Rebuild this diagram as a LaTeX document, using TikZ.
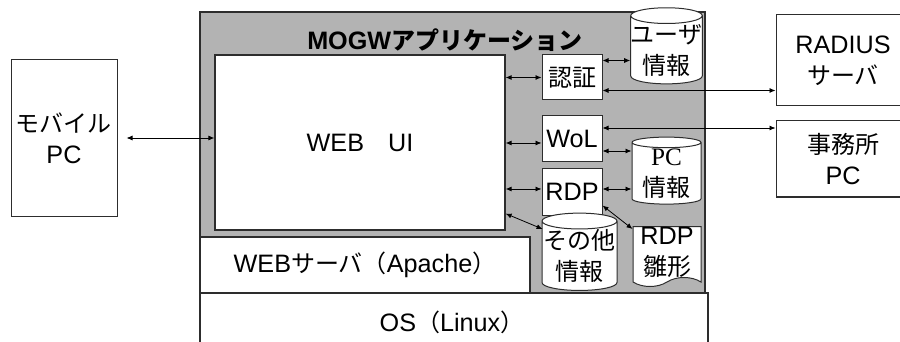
\documentclass[tikz,border=0pt]{standalone}
\usepackage{fontspec}
\setmainfont{Liberation Sans}[Scale=1.05]
\newfontfamily\jp{Noto Sans CJK JP}
\newfontfamily\tm{Liberation Serif}[Scale=1.05]
\usepackage{tikz}
\usetikzlibrary{shapes.geometric, shapes.symbols, arrows.meta, positioning}
\definecolor{appgray}{RGB}{179,179,179}
\definecolor{mydark}{RGB}{45,45,45}
\newcommand{\lblfont}{\fontsize{24pt}{31pt}\selectfont}
\tikzset{
  layer/.style={rectangle, draw=mydark, fill=white, line width=1.2pt,
    inner sep=0pt, font=\lblfont},
  box/.style={rectangle, draw=mydark, fill=white, line width=1pt,
    align=center, inner sep=0pt, font=\lblfont},
  db/.style={cylinder, shape border rotate=90, aspect=0.22, draw=mydark,
    fill=white, line width=1pt, align=center, inner sep=0pt, font=\lblfont},
  doc/.style={tape, tape bend top=none, tape bend height=9pt, draw=mydark,
    fill=white, line width=1pt, align=center, inner sep=0pt, font=\lblfont},
  biarrow/.style={{Latex[length=6pt,width=5pt]}-{Latex[length=6pt,width=5pt]},
    line width=0.8pt, color=black}
}
\begin{document}
\begin{tikzpicture}[x=1pt, y=-1pt]
  \useasboundingbox (0,0) rectangle (900,342);
  \clip (0,0) rectangle (900,342);
  % Layers of the server
  \node[layer, minimum width=508pt, minimum height=60pt] (os) at (454,323) {};
  \node[font=\lblfont] (oslbl) at (452,322) {OS{\jp （}Linux{\jp ）}};
  \node[layer, fill=appgray, minimum width=505pt, minimum height=281pt] (app) at (452.5,152.5) {};
  \node[font=\lblfont\bfseries] (title) at (445,40) {MOGW{\jp\bfseries アプリケーション}};
  \node[layer, minimum width=330pt, minimum height=56pt] (websrv) at (365,265) {WEB{\jp サーバ（}Apache{\jp ）}};
  \node[layer, minimum width=290pt, minimum height=175pt] (webui) at (360,142.5) {WEB{\jp 　}UI};
  % Modules
  \node[box, minimum width=60pt, minimum height=45pt] (auth) at (572,77.5) {\jp 認証};
  \node[box, minimum width=60pt, minimum height=46pt] (wol) at (572,139) {WoL};
  \node[box, minimum width=60pt, minimum height=46pt] (rdp) at (572,192) {RDP};
  % Data stores
  \node[db, minimum width=69pt, minimum height=66pt] (user) at (666.5,50) {\jp ユーザ\\\jp 情報};
  \node[db, minimum width=69pt, minimum height=67pt] (pcinfo) at (666.5,173.5) {{\tm PC}\\\jp 情報};
  \node[db, minimum width=75pt, minimum height=66pt] (other) at (579.5,256) {\jp その他\\\jp 情報};
  \node[doc, minimum width=68pt, minimum height=60pt] (tmpl) at (667,252) {RDP\\\jp 雛形};
  % Outside machines
  \node[box, minimum width=106pt, minimum height=156pt] (mobile) at (64,138) {{\jp モバイル}\\PC};
  \node[box, minimum width=134pt, minimum height=91pt] (radius) at (843,60.5) {RADIUS\\\jp サーバ};
  \node[box, minimum width=134pt, minimum height=76pt] (office) at (843,159) {{\jp 事務所}\\PC};
  % Connections
  \draw[biarrow] ([xshift=9pt]mobile.east) -- (mobile.east -| webui.west);
  \draw[biarrow] (auth.west -| webui.east) -- (auth.west);
  \draw[biarrow] ([yshift=-4pt]wol.west -| webui.east) -- ([yshift=-4pt]wol.west);
  \draw[biarrow] ([yshift=3pt]rdp.west -| webui.east) -- ([yshift=3pt]rdp.west);
  \draw[biarrow] ([yshift=17pt]webui.south east) -- ([yshift=-10pt]other.north west);
  \draw[biarrow] ([yshift=17pt]auth.east) -- ([yshift=17pt]auth.east -| user.west);
  \draw[biarrow] ([yshift=-13pt]auth.east) -- ([yshift=-13pt]auth.east -| radius.west);
  \draw[biarrow] ([yshift=11pt]wol.east) -- ([yshift=11pt]wol.east -| office.west);
  \draw[biarrow] ([yshift=-12pt]wol.east) -- ([yshift=-12pt]wol.east -| pcinfo.west);
  \draw[biarrow] ([yshift=3pt]rdp.east) -- ([yshift=3pt]rdp.east -| pcinfo.west);
  \draw[biarrow] ([yshift=10pt]rdp.south east) -- ([yshift=-3pt]tmpl.north west);
\end{tikzpicture}
\end{document}
